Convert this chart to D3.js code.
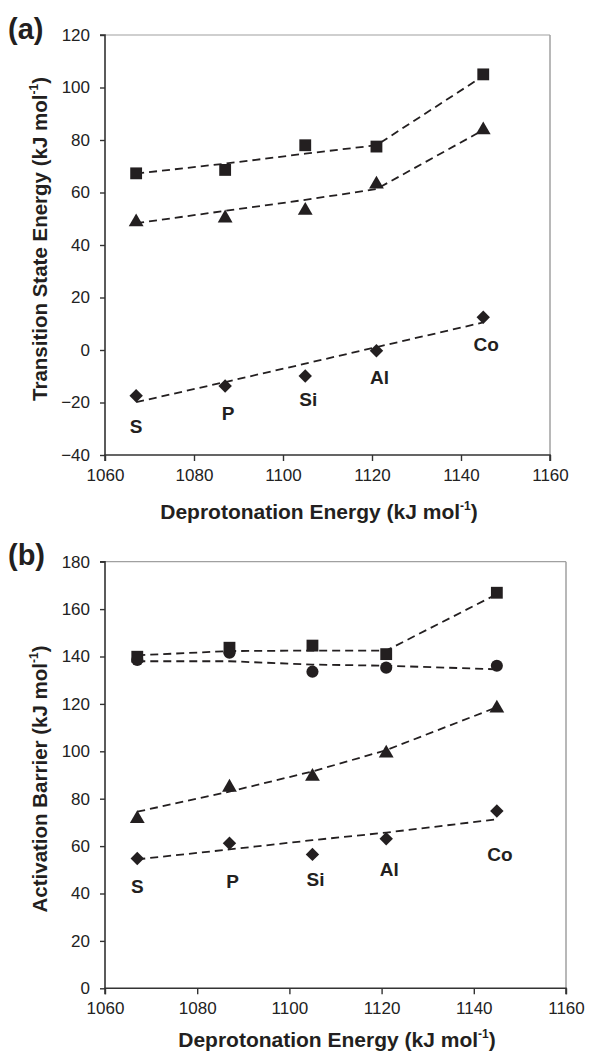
<!DOCTYPE html>
<html>
<head>
<meta charset="utf-8">
<script src="https://cdn.jsdelivr.net/npm/d3@7"></script>
<style>
  html, body { margin: 0; padding: 0; background: #fff; }
  svg { display: block; font-family: "Liberation Sans", Arial, sans-serif; }
</style>
</head>
<body>
<svg id="chart" width="590" height="1053"></svg>
<script>
// ---- data ----
const elements = ["S", "P", "Si", "Al", "Co"];
const deprotonation = [1067, 1087, 1105, 1121, 1145];

// panel (a): transition state energy
const tsSquare   = [67.3, 68.6, 78.0, 77.5, 105.0];
const tsTriangle = [49.3, 50.8, 53.7, 63.7, 84.4];
const tsDiamond  = [-17.4, -13.7, -9.9, -0.3, 12.5];
const tsSquareFit   = [67.2, 71.0, 74.8, 78.0, 104.4];
const tsTriangleFit = [48.3, 53.0, 57.2, 61.3, 83.8];
const tsDiamondFit  = [-19.9, -12.2, -5.2, 1.1, 10.5];
const tsLabelY      = [-29.2, -24.0, -18.8, -10.2, 2.3];
const tsTicksY = [-40, -20, 0, 20, 40, 60, 80, 100, 120];

// panel (b): activation barrier
const abSquare   = [139.9, 143.7, 144.6, 141.0, 166.9];
const abCircle   = [138.5, 141.6, 133.6, 135.3, 136.1];
const abTriangle = [72.2, 85.4, 90.0, 99.8, 118.8];
const abDiamond  = [54.8, 61.2, 56.5, 63.1, 74.8];
const abSquareFit   = [140.5, 142.3, 142.5, 142.5, 166.3];
const abCircleFit   = [138.0, 138.0, 136.6, 136.1, 134.6];
const abTriangleFit = [74.5, 83.0, 91.5, 100.5, 118.6];
const abDiamondFit  = [54.4, 58.6, 62.5, 65.7, 71.3];
const abLabelY      = [43.2, 45.0, 46.0, 50.3, 56.6];
const abTicksY = [0, 20, 40, 60, 80, 100, 120, 140, 160, 180];

const ticksX = [1060, 1080, 1100, 1120, 1140, 1160];
const xTitle = "Deprotonation Energy (kJ mol";

const svg = d3.select("#chart");
const ink = "#231f20";

function symbolPath(type, size) {
  return d3.symbol().type(type).size(size)();
}

function panel(opt) {
  const g = svg.append("g");
  const x = d3.scaleLinear().domain([1060, 1160]).range([opt.left, opt.right]);
  const y = d3.scaleLinear().domain(opt.yDomain).range([opt.bottom, opt.top]);

  // frame (top/right grey)
  g.append("line").attr("x1", opt.left).attr("x2", opt.right).attr("y1", opt.top).attr("y2", opt.top)
    .attr("stroke", "#a0a0a0").attr("stroke-width", 1.2);
  g.append("line").attr("x1", opt.right).attr("x2", opt.right).attr("y1", opt.top).attr("y2", opt.bottom)
    .attr("stroke", "#a0a0a0").attr("stroke-width", 1.5);

  // axes
  const yAxis = d3.axisLeft(y).tickValues(opt.ticksY).tickSize(5).tickPadding(10).tickFormat(d3.format("d"));
  const xAxis = d3.axisBottom(x).tickValues(ticksX).tickSize(6).tickPadding(8).tickFormat(d3.format("d"));
  const ya = g.append("g").attr("transform", `translate(${opt.left},0)`).call(yAxis);
  const xa = g.append("g").attr("transform", `translate(0,${opt.bottom})`).call(xAxis);
  [ya, xa].forEach(a => {
    a.select(".domain").attr("stroke", "#333").attr("stroke-width", 1.6);
    a.selectAll(".tick line").attr("stroke", "#333").attr("stroke-width", 1.4);
    a.selectAll(".tick text").attr("fill", "#222").attr("font-size", 17)
      .attr("font-family", "'Liberation Sans', Arial, sans-serif");
  });
  ya.select(".domain").attr("d", `M-5,${opt.top}H0V${opt.bottom}`);
  xa.select(".domain").attr("d", `M${opt.left},6V0H${opt.right}V6`);

  // fit lines
  const line = d3.line().x((d, i) => x(deprotonation[i])).y(d => y(d));
  opt.fits.forEach(f => {
    g.append("path").attr("d", line(f)).attr("fill", "none").attr("stroke", ink)
      .attr("stroke-width", 1.8).attr("stroke-dasharray", "8,5");
  });

  // markers
  opt.series.forEach(s => {
    g.selectAll(null).data(s.values).enter().append("path")
      .attr("d", symbolPath(s.type, s.size))
      .attr("transform", (d, i) => {
        let tx = x(deprotonation[i]), ty = y(d);
        if (s.type === d3.symbolTriangle) ty += 1.5;
        return `translate(${tx},${ty})` + (s.rotate ? " rotate(45)" : "");
      })
      .attr("fill", ink);
  });

  // element labels
  g.selectAll(null).data(elements).enter().append("text")
    .attr("x", (d, i) => x(deprotonation[i]) + (i === 0 ? 0 : 3))
    .attr("y", (d, i) => y(opt.labelY[i]))
    .attr("dy", "0.36em")
    .attr("text-anchor", "middle")
    .attr("font-size", 19).attr("font-weight", "bold").attr("fill", ink)
    .text(d => d);

  // x axis title
  const xt = g.append("text").attr("x", opt.xTitleX).attr("y", opt.xTitleY)
    .attr("text-anchor", "middle").attr("font-size", 21).attr("font-weight", "bold").attr("fill", ink);
  xt.append("tspan").text(xTitle);
  xt.append("tspan").text("-1").attr("font-size", 12).attr("dy", -9);
  xt.append("tspan").text(")").attr("dy", 9);

  // y axis title
  const yt = g.append("text")
    .attr("transform", `translate(${opt.yTitleX},${opt.yTitleY}) rotate(-90)`)
    .attr("text-anchor", "middle").attr("font-size", 20.5).attr("font-weight", "bold").attr("fill", ink);
  yt.append("tspan").text(opt.yTitle + " (kJ mol");
  yt.append("tspan").text("-1").attr("font-size", 12).attr("dy", -9);
  yt.append("tspan").text(")").attr("dy", 9);

  // panel letter
  g.append("text").attr("x", 8).attr("y", opt.letterY).attr("font-size", 29).attr("font-weight", "bold")
    .attr("fill", ink).text(opt.letter);
}

panel({
  left: 105, right: 550, top: 35, bottom: 455, yDomain: [-40, 120], ticksY: tsTicksY,
  fits: [tsSquareFit, tsTriangleFit, tsDiamondFit],
  series: [
    { values: tsSquare, type: d3.symbolSquare, size: 140 },
    { values: tsTriangle, type: d3.symbolTriangle, size: 95 },
    { values: tsDiamond, type: d3.symbolSquare, size: 90, rotate: true }
  ],
  labelY: tsLabelY,
  xTitleX: 319, xTitleY: 519,
  yTitle: "Transition State Energy", yTitleX: 47, yTitleY: 239,
  letter: "(a)", letterY: 39
});

panel({
  left: 105, right: 566, top: 561.7, bottom: 988.3, yDomain: [0, 180], ticksY: abTicksY,
  fits: [abSquareFit, abCircleFit, abTriangleFit, abDiamondFit],
  series: [
    { values: abSquare, type: d3.symbolSquare, size: 140 },
    { values: abCircle, type: d3.symbolCircle, size: 115 },
    { values: abTriangle, type: d3.symbolTriangle, size: 95 },
    { values: abDiamond, type: d3.symbolSquare, size: 90, rotate: true }
  ],
  labelY: abLabelY,
  xTitleX: 337, xTitleY: 1047,
  yTitle: "Activation Barrier", yTitleX: 47, yTitleY: 779,
  letter: "(b)", letterY: 565
});
</script>
</body>
</html>
